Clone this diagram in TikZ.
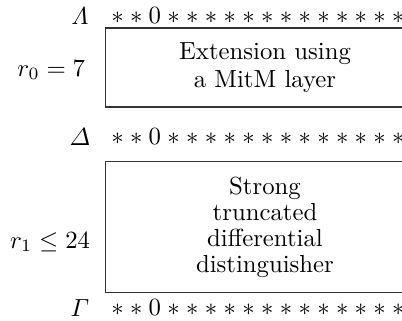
\documentclass[tikz,border=0pt]{standalone}
\usepackage{amsmath,amssymb}
\usetikzlibrary{positioning}
% one row of cells: two unknown, one zero, the rest unknown
\newcommand{\cellrow}{%
  \foreach \c in {\ast,\ast,0,\ast,\ast,\ast,\ast,\ast,\ast,\ast,\ast,\ast,\ast,\ast,\ast,\ast}%
    {\makebox[7.57pt]{$\c$}}}

\begin{document}
\begin{tikzpicture}[x=0.0142cm,y=-0.0142cm,
  part/.style={rectangle,draw=black!80,line width=0.5pt,align=center,
               minimum width=4.54cm,inner sep=2pt},
  rowname/.style={inner sep=0pt},
  nibbles/.style={inner sep=0pt,anchor=west},
  rounds/.style={inner sep=0pt,anchor=east}]
\useasboundingbox (0,0) rectangle (402,320);
\clip (0,0) rectangle (402,320);
% state rows
\node[rowname] (lam) at (80,16)  {$\varLambda$};
\node[rowname] (del) at (80,137) {$\varDelta$};
\node[rowname] (gam) at (80,308) {$\varGamma$};
\node[nibbles] (lamrow) at (107.6,16)  {\cellrow};
\node[nibbles] (delrow) at (107.6,137) {\cellrow};
\node[nibbles] (gamrow) at (107.6,308) {\cellrow};
% the two parts of the attack
\node[part,minimum height=1.12cm,font={\fontsize{10}{11.3}\selectfont}]
  (mitm) at (265,67.5) {Extension using\\a MitM layer};
\node[part,minimum height=1.87cm,font={\fontsize{10}{10.5}\selectfont}]
  (dist) at (265,227) {Strong\\truncated\\differential\\distinguisher};
\node[rounds] (r0) at (85.5,70)  {$r_0=7$};
\node[rounds] (r1) at (90.5,242) {$r_1\leq 24$};
\end{tikzpicture}
\end{document}
